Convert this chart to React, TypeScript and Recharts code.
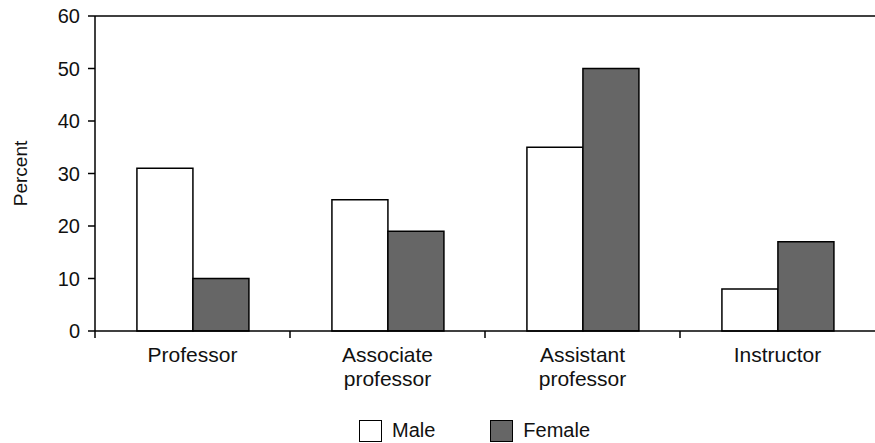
import React from 'react'
import { BarChart, Bar, XAxis, YAxis, ReferenceLine, Legend } from 'recharts'

const ranks = ['Professor', 'Associate professor', 'Assistant professor', 'Instructor']
const male = [31, 25, 35, 8]
const female = [10, 19, 50, 17]
const yTicks = [0, 10, 20, 30, 40, 50, 60]

const data = ranks.map((rank, i) => ({ rank, male: male[i], female: female[i] }))

const FONT = '"Liberation Sans", Arial, sans-serif'

// category label, plus a tick mark on the left edge of the band
function RankTick({ x, y, payload, width, visibleTicksCount }: any) {
  const lines = String(payload.value).split(' ')
  const half = width / visibleTicksCount / 2
  return (
    <g>
      <line x1={x - half} x2={x - half} y1={y} y2={y + 7} stroke="#000" strokeWidth={1.5} />
      <text x={x} y={y} textAnchor="middle" fill="#111" fontSize={21} fontFamily={FONT}>
        {lines.map((l, i) => (
          <tspan key={i} x={x} dy={i === 0 ? 31 : 24}>{l}</tspan>
        ))}
      </text>
    </g>
  )
}

function PercentLabel({ viewBox }: any) {
  const cx = 20
  const cy = viewBox.y + viewBox.height / 2
  return (
    <text x={cx} y={cy} transform={`rotate(-90 ${cx} ${cy})`} textAnchor="middle" dominantBaseline="central" fill="#111" fontSize={19} fontFamily={FONT}>
      Percent
    </text>
  )
}

function LegendBox() {
  const item = (label: string, fill: string, gap: number) => (
    <span style={{ display: 'inline-flex', alignItems: 'center', marginRight: gap }}>
      <span style={{ display: 'inline-block', width: 21, height: 20, background: fill, border: '1.5px solid #000', marginRight: 10 }} />
      <span>{label}</span>
    </span>
  )
  return (
    <div style={{ display: 'flex', justifyContent: 'center', paddingLeft: 74, paddingTop: 18, fontFamily: FONT, fontSize: 20, color: '#111' }}>
      {item('Male', '#fff', 55)}
      {item('Female', '#666', 0)}
    </div>
  )
}

export default function App() {
  return (
    <div style={{ position: 'absolute', left: 0, top: 0, background: '#fff' }}>
      <BarChart width={875} height={443} data={data} margin={{ top: 16, right: 0, bottom: 0, left: 0 }} barCategoryGap="21.5%" barGap={0}>
        <XAxis dataKey="rank" height={70} tick={<RankTick />} tickLine={false} tickSize={0} tickMargin={0} axisLine={{ stroke: '#000', strokeWidth: 1.5 }} interval={0} />
        <YAxis width={95} domain={[0, 60]} ticks={yTicks} tickSize={7} tickMargin={8} axisLine={{ stroke: '#000', strokeWidth: 1.5 }} tickLine={{ stroke: '#000', strokeWidth: 1.5 }} tick={{ fill: '#111', fontSize: 20, fontFamily: FONT }} label={<PercentLabel />} />
        <ReferenceLine y={60} stroke="#000" strokeWidth={1.5} />
        <Legend verticalAlign="bottom" height={42} content={<LegendBox />} />
        <Bar dataKey="male" name="Male" fill="#fff" stroke="#000" strokeWidth={1.5} isAnimationActive={false} />
        <Bar dataKey="female" name="Female" fill="#666" stroke="#000" strokeWidth={1.5} isAnimationActive={false} />
      </BarChart>
    </div>
  )
}
